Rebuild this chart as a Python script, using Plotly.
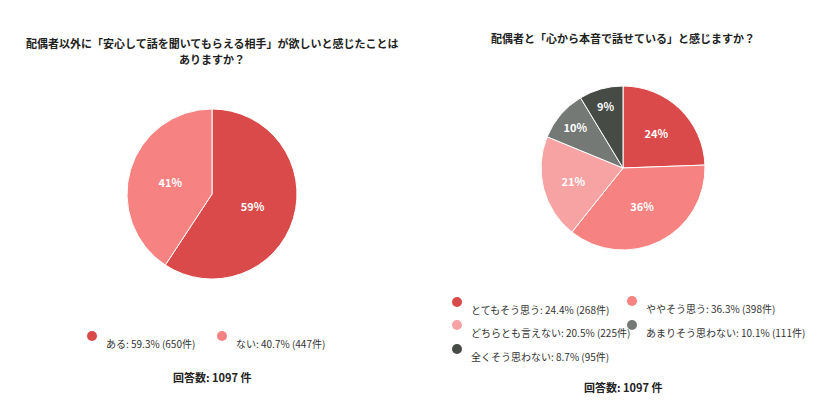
import plotly.graph_objects as go

# left question
q1_title = ['配偶者以外に「安心して話を聞いてもらえる相手」が欲しいと感じたことは', 'ありますか？']
q1_labels = ['ある', 'ない']
q1_counts = [650, 447]
q1_colors = ['#DA4A4A', '#F68282']

# right question
q2_title = ['配偶者と「心から本音で話せている」と感じますか？']
q2_labels = ['とてもそう思う', 'ややそう思う', 'どちらとも言えない', 'あまりそう思わない', '全くそう思わない']
q2_counts = [268, 398, 225, 111, 95]
q2_colors = ['#DA4A4A', '#F68282', '#F7A3A3', '#757976', '#464B46']

# page body has an 8px margin, so the figure is a bit smaller and offset
OFF = 8
W, H = 824 - 2 * OFF, 412 - 2 * OFF
FONT = 'Noto Sans CJK JP'


def px(x):
    return (x - OFF) / W


def py(y):
    return 1 - (y - OFF) / H


def legend_items(labels, counts):
    total = sum(counts)
    return [f'{l}: {c / total * 100:.1f}% ({c}件)' for l, c in zip(labels, counts)]


fig = go.Figure()

fig.add_trace(go.Pie(
    labels=q1_labels, values=q1_counts, sort=False, direction='clockwise',
    marker=dict(colors=q1_colors, line=dict(color='white', width=1)),
    texttemplate='<b>%{percent:.0%}</b>', textposition='inside', insidetextorientation='horizontal',
    textfont=dict(color='white', size=11, family=FONT),
    domain=dict(x=[px(127), px(297)], y=[py(279), py(109)]),
    showlegend=False, hoverinfo='label+value+percent'))

fig.add_trace(go.Pie(
    labels=q2_labels, values=q2_counts, sort=False, direction='clockwise',
    marker=dict(colors=q2_colors, line=dict(color='white', width=1)),
    texttemplate='<b>%{percent:.0%}</b>', textposition='inside', insidetextorientation='horizontal',
    textfont=dict(color='white', size=11, family=FONT),
    domain=dict(x=[px(541), px(705)], y=[py(250), py(86)]),
    showlegend=False, hoverinfo='label+value+percent'))

annotations = []
shapes = []


def add_title(lines, cx, top):
    for i, line in enumerate(lines):
        annotations.append(dict(x=px(cx), y=py(top + 16 * i), text='<b>' + line + '</b>', showarrow=False,
                                xref='paper', yref='paper', xanchor='center', yanchor='middle',
                                font=dict(size=11, color='#222', family=FONT)))


add_title(q1_title, 212, 43)
add_title(q2_title, 623, 38)


def add_legend(items, colors, positions):
    for text, color, (cx, cy) in zip(items, colors, positions):
        shapes.append(dict(type='circle', xref='paper', yref='paper',
                           x0=px(cx - 5), x1=px(cx + 5), y0=py(cy + 5), y1=py(cy - 5),
                           fillcolor=color, line=dict(width=0)))
        annotations.append(dict(x=px(cx + 12), y=py(cy + 7), text=text, showarrow=False,
                                xref='paper', yref='paper', xanchor='left', yanchor='middle',
                                font=dict(size=10, color='#333', family=FONT)))


add_legend(legend_items(q1_labels, q1_counts), q1_colors, [(92, 336), (222, 336)])
add_legend(legend_items(q2_labels, q2_counts), q2_colors,
           [(457, 302), (632, 301), (457, 325), (632, 325), (457, 349)])

annotations.append(dict(x=px(212), y=py(377), text=f'<b>回答数: {sum(q1_counts)} 件</b>', showarrow=False,
                        xref='paper', yref='paper', xanchor='center', yanchor='middle',
                        font=dict(size=11, color='#222', family=FONT)))
annotations.append(dict(x=px(623), y=py(387), text=f'<b>回答数: {sum(q2_counts)} 件</b>', showarrow=False,
                        xref='paper', yref='paper', xanchor='center', yanchor='middle',
                        font=dict(size=11, color='#222', family=FONT)))

fig.update_layout(
    width=W, height=H, margin=dict(l=0, r=0, t=0, b=0),
    paper_bgcolor='white', plot_bgcolor='white',
    annotations=annotations, shapes=shapes,
    font=dict(family=FONT))

fig.write_html('out.html')
